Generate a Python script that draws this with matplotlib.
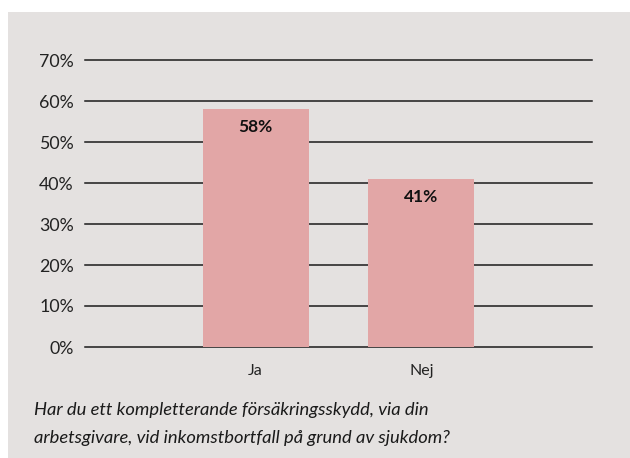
import matplotlib.pyplot as plt
from matplotlib.patches import Rectangle

# data
categories = ['Ja', 'Nej']
values = [0.58, 0.41]
value_labels = ['58%', '41%']
yticks = [0, 0.1, 0.2, 0.3, 0.4, 0.5, 0.6, 0.7]
ytick_labels = ['0%', '10%', '20%', '30%', '40%', '50%', '60%', '70%']
caption = ('Har du ett kompletterande försäkringsskydd, via din\n'
           'arbetsgivare, vid inkomstbortfall på grund av sjukdom?')

plt.rcParams['font.family'] = ['Lato', 'DejaVu Sans']

fig = plt.figure(figsize=(6.3, 4.58), dpi=100)
fig.patch.set_facecolor('white')
# grey panel behind everything
fig.patches.append(Rectangle((8 / 630, 0), 1, 1 - 12 / 458, transform=fig.transFigure,
                             facecolor='#e4e1e0', edgecolor='none', zorder=0))

ax = fig.add_axes([85 / 630, 1 - 347 / 458, 507 / 630, 287 / 458])
ax.set_facecolor('none')
ax.set_zorder(2)

for t in yticks:
    ax.axhline(t, color='#1a1a1a', lw=1.1, zorder=1, clip_on=False)

x = range(len(categories))
bars = ax.bar(x, values, width=0.64, color='#e2a6a6', zorder=2)

for b, lab in zip(bars, value_labels):
    ax.annotate(lab, (b.get_x() + b.get_width() / 2, b.get_height()),
                xytext=(0, -18), textcoords='offset pixels', ha='center', va='center',
                fontsize=12.5, fontweight='bold', color='#111111', zorder=3)

ax.set_xlim(-1.03, 2.03)
ax.set_ylim(0, 0.7)
ax.set_yticks(yticks)
ax.set_yticklabels(ytick_labels, fontsize=12.8, color='#222222')
ax.set_xticks(list(x))
ax.set_xticklabels(categories, fontsize=11.5, color='#222222')
ax.tick_params(axis='both', length=0)
ax.tick_params(axis='y', pad=8)
ax.tick_params(axis='x', pad=12)
for s in ax.spines.values():
    s.set_visible(False)

fig.text(34 / 630, 1 - 424 / 458, caption, fontsize=13.2, style='italic',
         color='#1a1a1a', ha='left', va='center', linespacing=1.9)

fig.savefig('out.png', dpi=100)
